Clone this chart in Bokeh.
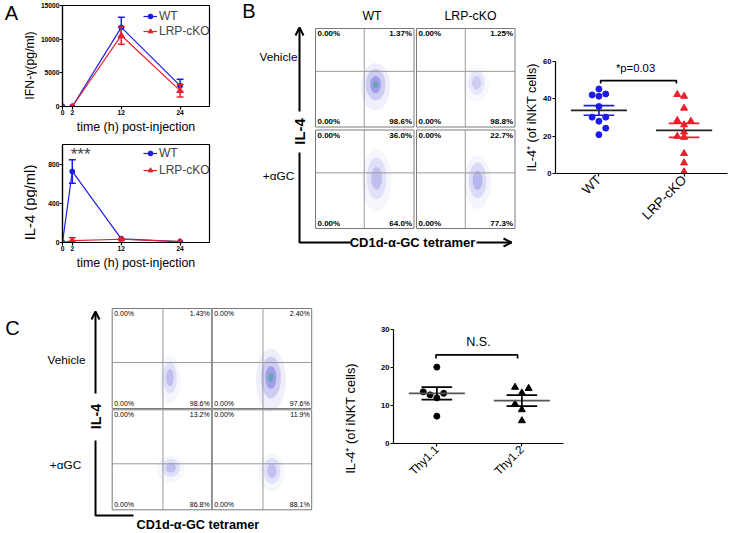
from math import pi
from bokeh.plotting import figure
from bokeh.layouts import row, column
from bokeh.models import Range1d, FixedTicker, Legend, LegendItem, Label, Arrow, OpenHead
from bokeh.core.properties import value
from bokeh.embed import file_html
from bokeh.resources import INLINE

# ---------------- data ----------------
time_h = [0, 2, 12, 24]
ifn_wt = [0, 0, 11750, 3100]
ifn_wt_err = [0, 0, 1500, 950]
ifn_ko = [0, 0, 10550, 2350]
ifn_ko_err = [0, 0, 1300, 950]
il4_wt = [0, 725, 38, 8]
il4_wt_err = [0, 120, 0, 0]
il4_ko = [0, 20, 33, 8]
il4_ko_err = [0, 28, 6, 0]
ifn_ticks = [0, 5000, 10000, 15000]
il4_ticks = [0, 400, 800]

b_groups = ["WT", "LRP-cKO"]
wt_vals = [45.3, 42.1, 41.4, 42.6, 35.9, 30.2, 30.2, 28.0, 24.3, 20.8]
wt_jit = [0, -1, 0, 1, 0, -1, 1, 0, 1, 0]
ko_vals = [42.3, 41.4, 35.0, 28.4, 28.0, 26.1, 22.2, 19.9, 19.4, 10.7, 5.7, 0.9]
ko_jit = [-1, 0, 0, -1, 1, 0, 0, -1, 0, 0, 0, 0]
b_mean = [33.8, 23.1]
b_sem = [2.6, 3.8]
b_ticks = [0, 20, 40, 60]
b_pvalue = "*p=0.03"

c_groups = ["Thy1.1", "Thy1.2"]
thy11_vals = [20.1, 13.6, 12.8, 13.2, 12.0, 7.2]
thy11_jit = [0, -2, -1, 1, 0, 0]
thy12_vals = [14.8, 14.5, 13.3, 10.4, 8.9, 6.0]
thy12_jit = [-1, 1, 0, -1, 0, 0]
c_mean = [13.2, 11.3]
c_sem = [1.65, 1.45]
c_ticks = [0, 10, 20, 30]
c_sig = "N.S."

flow_rows = ["Vehicle", "+αGC"]
flow_b_cols = ["WT", "LRP-cKO"]
# quadrant percentages per panel: [upper-left, upper-right, lower-left, lower-right]
flow_b_pct = [["0.00%", "1.37%", "0.00%", "98.6%"], ["0.00%", "1.25%", "0.00%", "98.8%"],
              ["0.00%", "36.0%", "0.00%", "64.0%"], ["0.00%", "22.7%", "0.00%", "77.3%"]]
flow_c_pct = [["0.00%", "1.43%", "0.00%", "98.6%"], ["0.00%", "2.40%", "0.00%", "97.6%"],
              ["0.00%", "13.2%", "0.00%", "86.8%"], ["0.00%", "11.9%", "0.00%", "88.1%"]]
# event clouds (fraction of panel): centre x, centre y (from top), width, height, density
flow_b_cloud = [[0.61, 0.57, 0.20, 0.32, 1.0], [0.61, 0.55, 0.17, 0.25, 0.45],
                [0.62, 0.49, 0.20, 0.42, 0.6], [0.62, 0.51, 0.18, 0.36, 0.7]]
flow_c_cloud = [[0.58, 0.69, 0.14, 0.32, 0.6], [0.59, 0.69, 0.20, 0.42, 1.0],
                [0.59, 0.58, 0.18, 0.18, 0.6], [0.60, 0.61, 0.17, 0.26, 0.6]]

# ---------------- styling helpers ----------------
FONT = "Liberation Sans"
BLUE = "#1c1ce6"
RED = "#e8202a"


def base_fig(w, h, xr, yr, bl=0, br=0, bt=0, bb=0, axes=True):
    kw = dict(width=w, height=h, x_range=xr, y_range=yr, output_backend="svg",
              toolbar_location=None, title=None, min_border_left=bl, min_border_right=br,
              min_border_top=bt, min_border_bottom=bb)
    if not axes:
        kw.update(x_axis_location=None, y_axis_location=None)
    p = figure(**kw)
    p.xgrid.visible = False
    p.ygrid.visible = False
    p.background_fill_color = "white"
    p.border_fill_color = "white"
    if not axes:
        p.outline_line_color = None
    return p


def style_axes(p, tick_fs):
    for ax in (p.xaxis, p.yaxis):
        ax.axis_line_color = "black"
        ax.axis_line_width = 1.2
        ax.major_tick_line_color = "black"
        ax.major_tick_line_width = 1.2
        ax.major_tick_out = 3
        ax.major_tick_in = 0
        ax.minor_tick_line_color = None
        ax.major_label_text_font = FONT
        ax.major_label_text_font_style = "bold"
        ax.major_label_text_font_size = tick_fs
        ax.major_label_text_color = "black"
        ax.major_label_standoff = 1
        ax.axis_label_text_font = FONT
        ax.axis_label_text_font_style = "normal"
        ax.axis_label_text_color = "black"


def txt(p, x, y, s, size, bold=False, align="center", base="middle", angle=0.0):
    p.text(x=[x], y=[y], text=[s], text_font=value(FONT), text_font_size=value(size),
           text_font_style=value("bold" if bold else "normal"), text_align=value(align),
           text_baseline=value(base), text_color="black", angle=angle)


# ---------------- panel A ----------------
LAB_W = 37
A_lab = base_fig(LAB_W, 272, Range1d(0, LAB_W), Range1d(272, 0), axes=False)
txt(A_lab, 11, 12, "A", "20px")
txt(A_lab, 29.5, 65, "IFN-γ(pg/ml)", "12.3px", angle=pi / 2)
txt(A_lab, 29.5, 202, "IL-4 (pg/ml)", "14.8px", angle=pi / 2)


def line_panel(region, frame, yr, yticks, wt, wt_err, ko, ko_err, legend_loc, legend_spacing):
    rx0, ry0, rx1, ry1 = region
    fx0, fy0, fx1, fy1 = frame
    p = base_fig(rx1 - rx0, ry1 - ry0, Range1d(0, 30), Range1d(0, yr),
                 bl=round(fx0 - rx0), br=round(rx1 - fx1), bt=round(fy0 - ry0), bb=round(ry1 - fy1))
    p.outline_line_color = "black"
    p.outline_line_width = 1.2
    style_axes(p, "6.7px")
    p.yaxis.major_label_standoff = 0
    p.xaxis.ticker = FixedTicker(ticks=time_h)
    p.yaxis.ticker = FixedTicker(ticks=yticks)
    p.xaxis.axis_label = "time (h) post-injection"
    p.xaxis.axis_label_text_font_size = "12.4px"
    p.xaxis.axis_label_standoff = 2
    p.xaxis.major_label_standoff = 0
    rends = []
    for vals, errs, col, mk, sz in ((wt, wt_err, BLUE, "circle", 5), (ko, ko_err, RED, "triangle", 6)):
        xs = [t for t, e in zip(time_h, errs) if e > 0]
        lo = [v - e for v, e in zip(vals, errs) if e > 0]
        hi = [v + e for v, e in zip(vals, errs) if e > 0]
        p.segment(x0=xs, x1=xs, y0=lo, y1=hi, line_color=col, line_width=1.5)
        p.segment(x0=[x - 0.7 for x in xs], x1=[x + 0.7 for x in xs], y0=hi, y1=hi,
                  line_color=col, line_width=1.5)
        p.segment(x0=[x - 0.7 for x in xs], x1=[x + 0.7 for x in xs], y0=lo, y1=lo,
                  line_color=col, line_width=1.5)
        lr = p.line(time_h, vals, line_color=col, line_width=1.2)
        sr = p.scatter(time_h, vals, marker=mk, size=sz, color=col)
        rends.append([lr, sr])
    leg = Legend(items=[LegendItem(label="WT", renderers=rends[0]),
                        LegendItem(label="LRP-cKO", renderers=rends[1])],
                 location=legend_loc)
    leg.margin = 0
    leg.padding = 0
    leg.spacing = legend_spacing
    leg.glyph_width = 14
    leg.glyph_height = 12
    leg.label_height = 12
    leg.label_width = 54
    leg.label_standoff = 2
    leg.label_text_font = FONT
    leg.label_text_font_size = "12px"
    leg.border_line_color = None
    leg.background_fill_alpha = 0
    p.add_layout(leg)
    return p


A_top = line_panel((LAB_W, 0, 240, 137), (59, 5, 209, 106), 15000, ifn_ticks,
                   ifn_wt, ifn_wt_err, ifn_ko, ifn_ko_err, (81, 68), 1)
A_bot = line_panel((LAB_W, 137, 240, 272), (59, 144, 209, 245), 1000, il4_ticks,
                   il4_wt, il4_wt_err, il4_ko, il4_ko_err, (81, 65), 3)
A_bot.add_layout(Label(x=3.7, y=895, text="***", text_font=FONT, text_font_size="17px",
                       text_align="center", text_baseline="middle"))


# ---------------- flow cytometry helper ----------------
def flow_grid(p, xs, ys, pw, ph, qx, qy, pcts, clouds, pct_size, pct_bold):
    k = 0
    for r in range(2):
        for c in range(2):
            x0, y0 = xs[c], ys[r]
            x1, y1 = x0 + pw, y0 + ph
            cl = clouds[k]
            cx, cy = x0 + cl[0] * pw, y0 + cl[1] * ph
            cw, ch, d = cl[2] * pw, cl[3] * ph, cl[4]
            p.ellipse(x=[cx], y=[cy + 0.06 * ch], width=[cw * 1.5], height=[ch * 1.5],
                      fill_color="#d8d8f7", fill_alpha=0.4 * d, line_color=None)
            p.ellipse(x=[cx], y=[cy], width=[cw], height=[ch],
                      fill_color="#9a9ae9", fill_alpha=0.4 * d, line_color=None)
            p.ellipse(x=[cx], y=[cy], width=[cw * 0.55], height=[ch * 0.55],
                      fill_color="#4848d4", fill_alpha=0.35 * d, line_color=None)
            if d >= 0.99:
                p.ellipse(x=[cx], y=[cy], width=[cw * 0.25], height=[ch * 0.2],
                          fill_color="#40a890", fill_alpha=0.6, line_color=None)
            qxv = x0 + qx * pw
            qyv = y0 + qy * ph
            p.segment(x0=[qxv, x0], x1=[qxv, x1], y0=[y0, qyv], y1=[y1, qyv],
                      line_color="#9a9a9a", line_width=1)
            p.quad(left=[x0], right=[x1], top=[y0], bottom=[y1], fill_color=None,
                   line_color="#7a7a7a", line_width=1)
            ul, ur, ll, lr = pcts[k]
            txt(p, x0 + 2, y0 + 5, ul, pct_size, pct_bold, "left")
            txt(p, x1 - 2, y0 + 5, ur, pct_size, pct_bold, "right")
            txt(p, x0 + 2, y1 - 5.5, ll, pct_size, pct_bold, "left")
            txt(p, x1 - 2, y1 - 5.5, lr, pct_size, pct_bold, "right")
            k += 1


# ---------------- panel B flow ----------------
B_flow = base_fig(280, 272, Range1d(240, 520), Range1d(272, 0), axes=False)
flow_grid(B_flow, [315, 416], [28, 129.5], 98.5, 98.5, 0.495, 0.435, flow_b_pct, flow_b_cloud,
          "8px", True)
txt(B_flow, 248.5, 10, "B", "20px")
txt(B_flow, 371.5, 15, flow_b_cols[0], "12.3px")
txt(B_flow, 470, 15, flow_b_cols[1], "12.3px")
txt(B_flow, 278, 56, flow_rows[0], "11.8px")
txt(B_flow, 278, 175, flow_rows[1], "11.8px")
txt(B_flow, 299, 131, "IL-4", "14.8px", True, angle=pi / 2)
txt(B_flow, 412, 242, "CD1d-α-GC tetramer", "13px", True)
B_flow.line([299, 299, 350], [152, 242, 242], line_color="black", line_width=2)
B_flow.add_layout(Arrow(end=OpenHead(size=8, line_width=2), x_start=299, y_start=111, x_end=299,
                        y_end=27, line_width=2))
B_flow.add_layout(Arrow(end=OpenHead(size=8, line_width=2), x_start=476, y_start=242, x_end=511,
                        y_end=242, line_width=2))


# ---------------- dot plot helper ----------------
def dot_panel(p, groups, vals_list, jit_list, means, sems, colors, markers, mean_col):
    for i, (vals, jit, col, mk) in enumerate(zip(vals_list, jit_list, colors, markers)):
        xc = i + 1
        p.scatter([xc + 0.08 * j for j in jit], vals, marker=mk,
                  size=6 if mk == "circle" else 7, color=col)
        m, s = means[i], sems[i]
        p.segment(x0=[xc - 0.33], x1=[xc + 0.33], y0=[m], y1=[m], line_color=mean_col, line_width=1.7)
        p.segment(x0=[xc, xc - 0.18, xc - 0.18], x1=[xc, xc + 0.18, xc + 0.18],
                  y0=[m - s, m + s, m - s], y1=[m + s, m + s, m - s], line_color=col, line_width=1.7)
    p.xaxis.ticker = FixedTicker(ticks=[1, 2])
    p.xaxis.major_label_overrides = {1: groups[0], 2: groups[1]}
    p.xaxis.major_label_orientation = pi / 4
    p.xaxis.major_label_text_font_style = "normal"


# ---------------- panel B dot plot ----------------
B_scat = base_fig(209, 272, Range1d(0.49, 2.51), Range1d(0, 60),
                  bl=35, br=2, bt=61, bb=99)
B_scat.outline_line_color = None
style_axes(B_scat, "7.6px")
B_scat.yaxis.ticker = FixedTicker(ticks=b_ticks)
B_scat.yaxis.axis_label = "IL-4⁺ (of iNKT cells)"
B_scat.yaxis.axis_label_text_font_size = "12.6px"
B_scat.yaxis.axis_label_standoff = 1
dot_panel(B_scat, b_groups, [wt_vals, ko_vals], [wt_jit, ko_jit], b_mean, b_sem, [BLUE, RED],
          ["circle", "triangle"], "#222222")
B_scat.xaxis.major_label_text_font_size = "13.3px"
B_scat.line([1.02, 1.02, 1.91, 1.91], [48.2, 49.8, 49.8, 48.2], line_color="black", line_width=1.7)
txt(B_scat, 1.43, 56.5, b_pvalue, "11.3px")

# ---------------- panel C flow ----------------
C_flow = base_fig(360, 261, Range1d(0, 360), Range1d(533, 272), axes=False)
flow_grid(C_flow, [111.7, 211.7], [308, 409.3], 99.5, 100, 0.51, 0.54, flow_c_pct, flow_c_cloud,
          "7px", False)
txt(C_flow, 12, 327, "C", "20px")
txt(C_flow, 66, 359, flow_rows[0], "11.8px")
txt(C_flow, 65, 464, flow_rows[1], "11.8px")
txt(C_flow, 95, 416, "IL-4", "14.3px", True, angle=pi / 2)
txt(C_flow, 136, 524, "CD1d-α-GC tetramer", "12.7px", True, "left")
txt(C_flow, 350, 418, "IL-4⁺ (of iNKT cells)", "12.9px", angle=pi / 2)
C_flow.line([95, 95, 133], [440, 515, 515], line_color="black", line_width=2)
C_flow.add_layout(Arrow(end=OpenHead(size=8, line_width=2), x_start=95, y_start=393, x_end=95,
                        y_end=311, line_width=2))

# ---------------- panel C dot plot ----------------
C_scat = base_fig(369, 261, Range1d(0.49, 2.49), Range1d(0, 30),
                  bl=33, br=166, bt=57, bb=90)
C_scat.outline_line_color = None
style_axes(C_scat, "7.6px")
C_scat.yaxis.ticker = FixedTicker(ticks=c_ticks)
dot_panel(C_scat, c_groups, [thy11_vals, thy12_vals], [thy11_jit, thy12_jit], c_mean, c_sem,
          ["black", "black"], ["circle", "triangle"], "#555555")
C_scat.xaxis.major_label_text_font_size = "11.8px"
C_scat.line([0.99, 0.99, 1.95, 1.95], [22.4, 23.3, 23.3, 22.4], line_color="black", line_width=1.7)
txt(C_scat, 1.49, 26.6, c_sig, "12.6px")

layout = column(row(column(A_lab), column(A_top, A_bot), column(B_flow), column(B_scat)),
                row(column(C_flow), column(C_scat)))
open("out.html", "w").write(file_html(layout, INLINE))
